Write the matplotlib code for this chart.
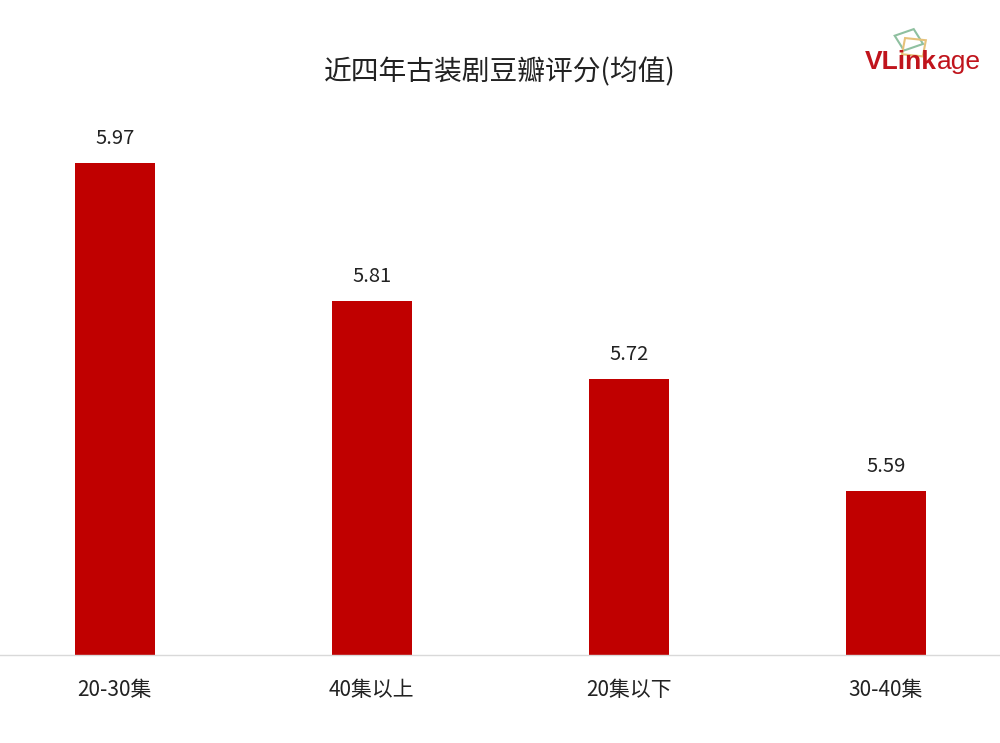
import matplotlib.pyplot as plt
import matplotlib.patches as mpatches

plt.rcParams['font.family'] = ['Noto Sans CJK SC', 'DejaVu Sans']

categories = ["20-30集", "40集以上", "20集以下", "30-40集"]
scores = [5.97, 5.81, 5.72, 5.59]

fig = plt.figure(figsize=(10, 7.43), dpi=100)
ax = fig.add_axes([0, 0.1184, 1, 0.7470])

x = range(len(categories))
ax.bar(x, scores, width=0.31, color="#C00000", zorder=2)
for i, v in zip(x, scores):
    ax.annotate(f"{v:.2f}", (i, v), xytext=(0, 10), textcoords="offset points",
                ha="center", va="bottom", fontsize=14.5, color="#222222")

ax.set_xlim(-0.447, 3.444)
ax.set_ylim(5.4, 6.043)
ax.set_xticks(list(x))
ax.set_xticklabels(categories, fontsize=15, color="#222222")
ax.tick_params(axis="x", length=0, pad=17)
ax.set_yticks([])
for s in ["top", "left", "right"]:
    ax.spines[s].set_visible(False)
ax.spines["bottom"].set_color("#d9d9d9")
ax.spines["bottom"].set_linewidth(1)

fig.text(0.5, 0.903, "近四年古装剧豆瓣评分(均值)", ha="center", va="center",
         fontsize=20, color="#222222")

# logo
t1 = fig.text(0.865, 0.916, "VLink", ha="left", va="center", fontsize=19,
              fontweight="bold", color="#C0141C", family="Liberation Sans")
fig.canvas.draw()
bb = t1.get_window_extent(fig.canvas.get_renderer()).transformed(fig.transFigure.inverted())
fig.text(bb.x1, 0.916, "age", ha="left", va="center", fontsize=19,
         color="#C0141C", family="Liberation Sans")
fig.patches.append(mpatches.Rectangle((0.904, 0.932), 0.021, 0.022, angle=25,
                   transform=fig.transFigure, fill=False, ec="#8fc0a0", lw=1.5))
fig.patches.append(mpatches.Rectangle((0.902, 0.927), 0.021, 0.022, angle=-8,
                   transform=fig.transFigure, fill=False, ec="#e6c27a", lw=1.5))

fig.savefig("out.png", dpi=100)
